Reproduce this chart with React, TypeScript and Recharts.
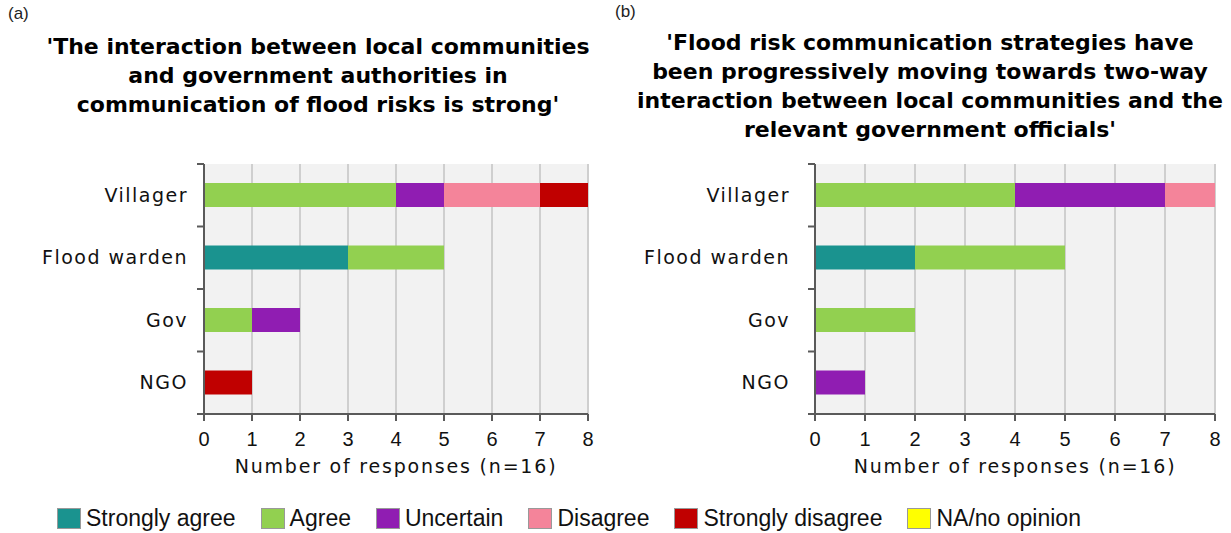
import { BarChart, Bar, XAxis, YAxis, CartesianGrid } from 'recharts';

const categories = ['Villager', 'Flood warden', 'Gov', 'NGO'];
const seriesNames = ['Strongly agree', 'Agree', 'Uncertain', 'Disagree', 'Strongly disagree', 'NA/no opinion'];
const seriesColors = ['#1a938f', '#92d050', '#901db2', '#f4849a', '#c00000', '#ffff00'];
const xTicks = [0, 1, 2, 3, 4, 5, 6, 7, 8];

// panel (a)
const aStronglyAgree = [0, 3, 0, 0];
const aAgree = [4, 2, 1, 0];
const aUncertain = [1, 0, 1, 0];
const aDisagree = [2, 0, 0, 0];
const aStronglyDisagree = [1, 0, 0, 1];
const aNoOpinion = [0, 0, 0, 0];

// panel (b)
const bStronglyAgree = [0, 2, 0, 0];
const bAgree = [4, 3, 2, 0];
const bUncertain = [3, 0, 0, 1];
const bDisagree = [1, 0, 0, 0];
const bStronglyDisagree = [0, 0, 0, 0];
const bNoOpinion = [0, 0, 0, 0];

const titleA = [
  "'The interaction between local communities",
  'and government authorities in',
  "communication of flood risks is strong'",
];
const titleB = [
  "'Flood risk communication strategies have",
  'been progressively moving towards two-way',
  'interaction between local communities and the',
  "relevant government officials'",
];

const axisTitle = 'Number of responses (n=16)';

function buildData(cols: number[][]) {
  return categories.map((name, i) => {
    const row: Record<string, string | number> = { name };
    seriesNames.forEach((s, k) => {
      row[s] = cols[k][i];
    });
    return row;
  });
}

const dataA = buildData([aStronglyAgree, aAgree, aUncertain, aDisagree, aStronglyDisagree, aNoOpinion]);
const dataB = buildData([bStronglyAgree, bAgree, bUncertain, bDisagree, bStronglyDisagree, bNoOpinion]);

const AXIS = '#5a5a5a';

function CategoryTick(props: any) {
  const { x, y, payload, index, visibleTicksCount, gap } = props;
  const lineX = x + gap;
  const half = payload.offset || 0;
  return (
    <g>
      <text
        x={x}
        y={y}
        dy="0.35em"
        textAnchor="end"
        fill="#111"
        style={{ fontFamily: 'DejaVu Sans', fontSize: 19, letterSpacing: 1.5 }}
      >
        {payload.value}
      </text>
      <line x1={lineX - 7} x2={lineX} y1={y - half} y2={y - half} stroke={AXIS} strokeWidth={2} />
      {index === visibleTicksCount - 1 && (
        <line x1={lineX - 7} x2={lineX} y1={y + half} y2={y + half} stroke={AXIS} strokeWidth={2} />
      )}
    </g>
  );
}

function Panel({ data, left, width, yWidth, gap, rightMargin }: any) {
  return (
    <div style={{ position: 'absolute', left, top: 150 }}>
      <BarChart
        width={width}
        height={330}
        data={data}
        layout="vertical"
        margin={{ top: 14, right: rightMargin, left: 0, bottom: 6 }}
      >
        <CartesianGrid horizontal={false} fill="#f2f2f2" stroke="#cfcfcf" strokeWidth={2} />
        <XAxis
          type="number"
          domain={[0, 8]}
          ticks={xTicks}
          interval={0}
          height={60}
          tickSize={7}
          tickMargin={11}
          stroke={AXIS}
          axisLine={{ stroke: AXIS, strokeWidth: 2 }}
          tickLine={{ stroke: AXIS, strokeWidth: 2 }}
          tick={{ fill: '#111', fontFamily: 'Liberation Sans', fontSize: 20 }}
          label={{
            value: axisTitle,
            position: 'insideBottom',
            offset: 1,
            fill: '#111',
            style: { fontFamily: 'DejaVu Sans', fontSize: 19, letterSpacing: 1.8 },
          }}
        />
        <YAxis
          type="category"
          dataKey="name"
          width={yWidth}
          tickSize={0}
          tickMargin={gap}
          interval={0}
          axisLine={{ stroke: AXIS, strokeWidth: 2 }}
          tickLine={false}
          tick={<CategoryTick gap={gap} />}
        />
        {seriesNames.map((s, k) => (
          <Bar
            key={s}
            dataKey={s}
            stackId="a"
            fill={seriesColors[k]}
            barSize={24}
            isAnimationActive={false}
          />
        ))}
      </BarChart>
    </div>
  );
}

function Title({ lines, left, top, width }: any) {
  return (
    <div
      style={{
        position: 'absolute',
        left,
        top,
        width,
        textAlign: 'center',
        fontFamily: 'DejaVu Sans',
        fontWeight: 'bold',
        fontSize: 22,
        lineHeight: '29px',
        color: '#000',
        whiteSpace: 'nowrap',
      }}
    >
      {lines.map((l: string) => (
        <div key={l}>{l}</div>
      ))}
    </div>
  );
}

export default function App() {
  return (
    <div style={{ position: 'absolute', left: 0, top: 0, width: 1231, height: 533, background: '#fff', overflow: 'hidden' }}>
      <div style={{ position: 'absolute', left: 8, top: 4, fontFamily: 'Liberation Sans', fontSize: 17, color: '#222' }}>(a)</div>
      <div style={{ position: 'absolute', left: 615, top: 2, fontFamily: 'Liberation Sans', fontSize: 17, color: '#222' }}>(b)</div>
      <Title lines={titleA} left={8} top={32} width={620} />
      <Title lines={titleB} left={620} top={28} width={620} />
      <Panel data={dataA} left={0} width={610} yWidth={204} gap={16} rightMargin={22} />
      <Panel data={dataB} left={620} width={611} yWidth={195} gap={25} rightMargin={16} />
      <div
        style={{
          position: 'absolute',
          left: 57,
          top: 505,
          display: 'flex',
          alignItems: 'center',
          gap: 25,
          fontFamily: 'Liberation Sans',
          fontSize: 23,
          color: '#111',
          whiteSpace: 'nowrap',
        }}
      >
        {seriesNames.map((s, k) => (
          <div key={s} style={{ display: 'flex', alignItems: 'center' }}>
            <span
              style={{
                display: 'inline-block',
                width: 24,
                height: 21,
                background: seriesColors[k],
                border: '1px solid #999',
                boxSizing: 'border-box',
                marginRight: 5,
              }}
            />
            <span>{s}</span>
          </div>
        ))}
      </div>
    </div>
  );
}
